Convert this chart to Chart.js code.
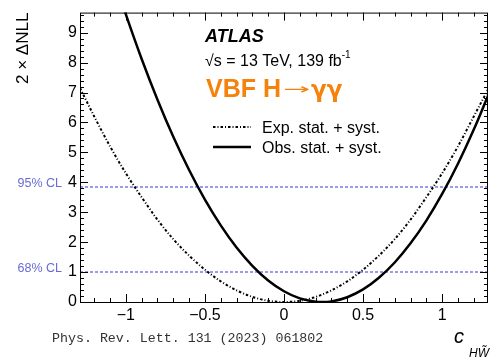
<!DOCTYPE html>
<html>
<head>
<meta charset="utf-8">
<script src="https://cdn.jsdelivr.net/npm/chart.js@4.4.0/dist/chart.umd.min.js"></script>
<style>
  html, body { margin: 0; padding: 0; background: #fff; }
</style>
</head>
<body>
<canvas id="chart" width="491" height="359"></canvas>
<script>
// Curves (c_HW~ vs 2 x delta NLL)
const expX = [-1.29, -1.2, -1.1, -1.0, -0.9, -0.8, -0.7, -0.6, -0.5, -0.4, -0.3, -0.2, -0.1, 0.0,
              0.1, 0.2, 0.3, 0.4, 0.5, 0.6, 0.7, 0.8, 0.9, 1.0, 1.1, 1.2, 1.29];
const expY = [7.15, 6.2, 5.2, 4.3, 3.5, 2.75, 2.1, 1.55, 1.08, 0.69, 0.39, 0.17, 0.04, 0.0,
              0.04, 0.17, 0.39, 0.69, 1.08, 1.55, 2.1, 2.75, 3.5, 4.3, 5.2, 6.2, 7.1];
const obsX = [-1.1, -1.0, -0.9, -0.8, -0.7, -0.6, -0.5, -0.4, -0.3, -0.2, -0.1, 0.0, 0.1, 0.2,
              0.24, 0.3, 0.4, 0.5, 0.6, 0.7, 0.8, 0.9, 1.0, 1.1, 1.2, 1.29];
const obsY = [11.2, 9.61, 8.12, 6.76, 5.52, 4.41, 3.42, 2.56, 1.82, 1.21, 0.72, 0.36, 0.12, 0.01,
              0.0, 0.02, 0.16, 0.42, 0.81, 1.32, 1.96, 2.72, 3.61, 4.62, 5.76, 6.89];

const seriesLabels = ['Exp. stat. + syst.', 'Obs. stat. + syst.'];
const xTickValues = [-1, -0.5, 0, 0.5, 1];
const yTickValues = [0, 1, 2, 3, 4, 5, 6, 7, 8, 9];
const clLevels = [1, 3.84];
const clLabels = ['68% CL', '95% CL'];

const X_MIN = -1.29, X_MAX = 1.29, Y_MAX = 9.67;
const SANS = '"Liberation Sans", Arial, sans-serif';

const toPoints = (xs, ys) => xs.map((x, i) => ({ x: x, y: ys[i] }));
const fmt = v => (v < 0 ? '\u2212' + Math.abs(v) : String(v));

// CL reference lines, as flat two-point lines
const clSets = clLevels.map(lvl => ({
  label: '',
  data: [{ x: X_MIN, y: lvl }, { x: X_MAX, y: lvl }],
  borderColor: '#7b7be6',
  borderWidth: 1.5,
  borderDash: [3, 2],
  pointRadius: 0
}));

// frame, inward ticks, labels and legend (ROOT / ATLAS style)
const atlasDecor = {
  id: 'atlasDecor',
  afterDatasetsDraw(chart) {
    const { ctx, chartArea: a, scales } = chart;
    const xs = scales.x, ys = scales.y;
    ctx.save();

    ctx.strokeStyle = '#000';
    ctx.lineWidth = 1;
    ctx.strokeRect(a.left + 0.5, a.top + 0.5, a.right - a.left - 1, a.bottom - a.top);

    ctx.beginPath();
    for (let i = -12; i <= 12; i++) {
      const v = i / 10;
      const px = Math.round(xs.getPixelForValue(v)) + 0.5;
      const len = i % 5 === 0 ? 8 : 4;
      ctx.moveTo(px, a.bottom); ctx.lineTo(px, a.bottom - len);
      ctx.moveTo(px, a.top); ctx.lineTo(px, a.top + len);
    }
    for (let i = 0; i <= 48; i++) {
      const v = i / 5;
      if (v > Y_MAX) break;
      const py = Math.round(ys.getPixelForValue(v)) + 0.5;
      const len = i % 5 === 0 ? 8 : 4;
      ctx.moveTo(a.left, py); ctx.lineTo(a.left + len, py);
      ctx.moveTo(a.right, py); ctx.lineTo(a.right - len, py);
    }
    ctx.stroke();

    // CL labels
    ctx.fillStyle = '#6a6ad6';
    ctx.font = '12.5px ' + SANS;
    ctx.textAlign = 'right';
    ctx.textBaseline = 'alphabetic';
    clLevels.forEach((lvl, i) => {
      ctx.fillText(clLabels[i], 62, ys.getPixelForValue(lvl) - 0.5);
    });

    // ATLAS label block
    ctx.textAlign = 'left';
    ctx.fillStyle = '#000';
    ctx.font = 'italic bold 18px ' + SANS;
    ctx.fillText('ATLAS', 205, 42);
    ctx.font = '16px ' + SANS;
    ctx.fillText('\u221As = 13 TeV, 139 fb', 205, 66);
    const w = ctx.measureText('\u221As = 13 TeV, 139 fb').width;
    ctx.font = '10px ' + SANS;
    ctx.fillText('-1', 205 + w, 58);

    ctx.fillStyle = '#f5820a';
    ctx.font = 'bold 25px ' + SANS;
    ctx.fillText('VBF H', 206, 97);
    let x0 = 206 + ctx.measureText('VBF H').width + 2;
    // long thin arrow, the glyph stretched sideways
    ctx.save();
    ctx.font = '15px "DejaVu Sans", ' + SANS;
    const aw = ctx.measureText('\u2192').width;
    ctx.translate(x0, 94);
    ctx.scale(27 / aw, 1);
    ctx.fillText('\u2192', 0, 0);
    ctx.restore();
    x0 += 28;
    ctx.font = 'bold 23px "DejaVu Sans", ' + SANS;
    ctx.fillText('\u03B3\u03B3', x0, 97);

    // legend
    ctx.font = '16px ' + SANS;
    ctx.fillStyle = '#000';
    const legY = [127, 147];
    [0, 1].forEach(i => {
      const ds = chart.data.datasets[i];
      ctx.save();
      ctx.strokeStyle = ds.borderColor;
      ctx.lineWidth = ds.borderWidth;
      ctx.setLineDash(ds.borderDash || []);
      ctx.beginPath();
      ctx.moveTo(213, legY[i]); ctx.lineTo(251, legY[i]);
      ctx.stroke();
      ctx.restore();
      ctx.fillText(ds.label, 262, legY[i] + 6);
    });

    // axis title x: c_{HW~}
    ctx.font = 'italic 20px ' + SANS;
    ctx.fillText('c', 454, 343);
    ctx.font = 'italic 12px ' + SANS;
    ctx.fillText('H', 469, 357);
    const hw = ctx.measureText('H').width;
    ctx.fillText('W\u0303', 469 + hw, 357);

    // reference footer
    ctx.fillStyle = '#333';
    ctx.font = '13.3px "Liberation Mono", "Courier New", monospace';
    ctx.fillText('Phys. Rev. Lett. 131 (2023) 061802', 52, 342);

    ctx.restore();
  }
};

new Chart(document.getElementById('chart'), {
  type: 'line',
  data: {
    datasets: [
      {
        label: seriesLabels[0],
        data: toPoints(expX, expY),
        borderColor: '#000',
        borderWidth: 2,
        borderDash: [2.5, 2, 1, 2],
        pointRadius: 0,
        cubicInterpolationMode: 'monotone'
      },
      {
        label: seriesLabels[1],
        data: toPoints(obsX, obsY),
        borderColor: '#000',
        borderWidth: 2.5,
        pointRadius: 0,
        cubicInterpolationMode: 'monotone'
      },
      ...clSets
    ]
  },
  options: {
    responsive: false,
    animation: false,
    devicePixelRatio: 1,
    layout: { padding: { top: 12, right: 3, left: 0, bottom: 0 } },
    plugins: {
      legend: { display: false },
      tooltip: { enabled: false }
    },
    scales: {
      x: {
        type: 'linear',
        min: X_MIN,
        max: X_MAX,
        grid: { display: false, drawTicks: false },
        border: { display: false },
        afterBuildTicks: s => { s.ticks = xTickValues.map(v => ({ value: v })); },
        afterFit: s => { s.height = 57; },
        ticks: {
          autoSkip: false,
          maxRotation: 0,
          padding: 4,
          color: '#000',
          font: { family: SANS, size: 16 },
          callback: v => fmt(v)
        }
      },
      y: {
        min: 0,
        max: Y_MAX,
        grid: { display: false, drawTicks: false },
        border: { display: false },
        afterBuildTicks: s => { s.ticks = yTickValues.map(v => ({ value: v })); },
        afterFit: s => { s.width = 80; },
        ticks: {
          autoSkip: false,
          padding: 3,
          color: '#000',
          font: { family: SANS, size: 16 },
          callback: v => String(v)
        },
        title: {
          display: true,
          text: '2 \u00D7 \u0394NLL',
          align: 'end',
          color: '#000',
          font: { family: SANS, size: 17 },
          padding: { top: 13, bottom: 0 }
        }
      }
    }
  },
  plugins: [atlasDecor]
});
</script>
</body>
</html>
